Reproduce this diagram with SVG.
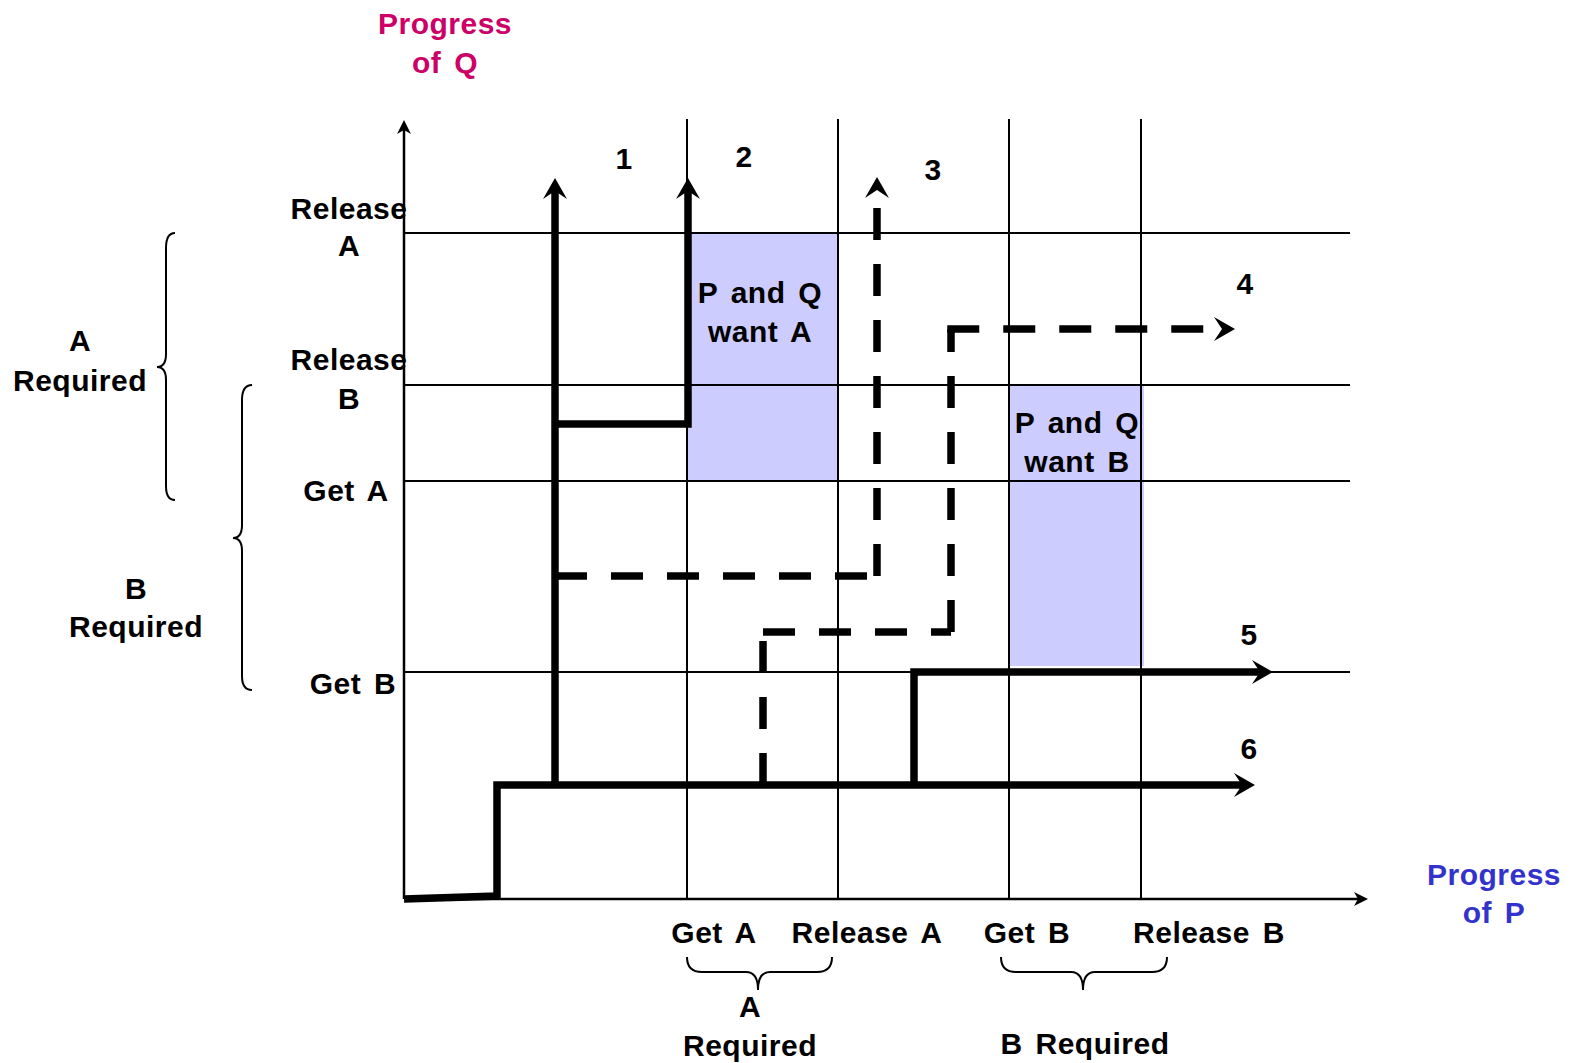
<svg xmlns="http://www.w3.org/2000/svg" width="1575" height="1063" viewBox="0 0 1575 1063">
<defs>
<style>
.t{font-family:"Liberation Sans",Arial,sans-serif;font-weight:bold;font-size:30px;fill:#000;text-anchor:middle;letter-spacing:0.5px;word-spacing:4px}
.q{fill:#CC0066}
.p{fill:#3333CC}
.grid{stroke:#000;stroke-width:2;fill:none}
.axis{stroke:#000;stroke-width:2.5;fill:none}
.thick{stroke:#000;stroke-width:7.5;fill:none}
.dash{stroke-dasharray:32 24}
.brace{stroke:#000;stroke-width:2;fill:none}
.shade{fill:#CCCCFF;stroke:none}
</style>
<marker id="big" markerUnits="userSpaceOnUse" viewBox="-10 -13 25 26" markerWidth="25" markerHeight="26" refX="0" refY="0" orient="auto"><path d="M13,0 L-8,-12 L0,0 L-8,12 Z" fill="#000"/></marker>
<marker id="small" markerUnits="userSpaceOnUse" viewBox="-6 -8 18 16" markerWidth="18" markerHeight="16" refX="0" refY="0" orient="auto"><path d="M10,0 L-4,-7 L0,0 L-4,7 Z" fill="#000"/></marker>
</defs>
<rect width="1575" height="1063" fill="#fff"/>

<g id="zone-a"><rect class="shade" x="687" y="233" width="151" height="248"/><text class="t" x="760" y="303">P and Q</text><text class="t" x="760" y="342">want A</text></g>
<g id="zone-b"><rect class="shade" x="1009" y="385" width="135" height="281"/><text class="t" x="1077" y="433">P and Q</text><text class="t" x="1077" y="472">want B</text></g>

<g id="grid">
<path class="grid" d="M404,233H1350M404,385H1350M404,481H1350M404,672H1350"/>
<path class="grid" d="M687,119V899M838,119V899M1009,119V899M1141,119V899"/>
</g>

<g id="axes">
<path class="axis" d="M404,899V130" marker-end="url(#small)"/>
<path class="axis" d="M404,899H1358" marker-end="url(#small)"/>
</g>

<g id="connectors">
<path id="path1" class="thick" d="M555,785V191" marker-end="url(#big)"/>
<path id="path2" class="thick" d="M555,424H688V191" marker-end="url(#big)"/>
<g id="path3">
<path class="thick dash" d="M555,576H877"/>
<path class="thick dash" d="M877,576V190" marker-end="url(#big)"/>
</g>
<g id="path4">
<path class="thick dash" d="M763,785V632"/>
<path class="thick dash" d="M763,632H951"/>
<path class="thick dash" d="M951,632V329"/>
<path class="thick dash" d="M947.25,329H1222" marker-end="url(#big)"/>
</g>
<path id="path5" class="thick" d="M914,785V672H1260" marker-end="url(#big)"/>
<path id="path6" class="thick" d="M404,899L497,896V785H1242" marker-end="url(#big)"/>
</g>

<g id="braces">
<path class="brace" d="M175,233Q166,233 166,248V354Q166,367 157,367Q166,367 166,380V486Q166,500 175,500"/>
<path class="brace" d="M252,385Q242,385 242,400V525Q242,538 233,538Q242,538 242,551V676Q242,690 252,690"/>
<path class="brace" d="M687,957Q687,972 702,972H746Q758,972 758,990Q758,972 770,972H817Q832,972 832,957"/>
<path class="brace" d="M1001,957Q1001,972 1016,972H1071Q1083,972 1083,990Q1083,972 1095,972H1152Q1167,972 1167,957"/>
</g>

<g id="label-progress-q"><text class="t q" x="445" y="34">Progress</text><text class="t q" x="445" y="73">of Q</text></g>
<g id="label-progress-p"><text class="t p" x="1494" y="885">Progress</text><text class="t p" x="1494" y="923">of P</text></g>

<g id="label-release-a-y"><text class="t" x="349" y="219">Release</text><text class="t" x="349" y="256">A</text></g>
<g id="label-release-b-y"><text class="t" x="349" y="370">Release</text><text class="t" x="349" y="409">B</text></g>
<g id="label-get-a-y"><text class="t" x="346" y="501">Get A</text></g>
<g id="label-get-b-y"><text class="t" x="353" y="694">Get B</text></g>
<g id="label-a-required-y"><text class="t" x="80" y="351">A</text><text class="t" x="80" y="391">Required</text></g>
<g id="label-b-required-y"><text class="t" x="136" y="599">B</text><text class="t" x="136" y="637">Required</text></g>

<g id="label-get-a-x"><text class="t" x="714" y="943">Get A</text></g>
<g id="label-release-a-x"><text class="t" x="867" y="943">Release A</text></g>
<g id="label-get-b-x"><text class="t" x="1027" y="943">Get B</text></g>
<g id="label-release-b-x"><text class="t" x="1209" y="943">Release B</text></g>
<g id="label-a-required-x"><text class="t" x="750" y="1017">A</text><text class="t" x="750" y="1056">Required</text></g>
<g id="label-b-required-x"><text class="t" x="1085" y="1054">B Required</text></g>

<g id="num-1"><text class="t" x="624" y="169">1</text></g>
<g id="num-2"><text class="t" x="744" y="167">2</text></g>
<g id="num-3"><text class="t" x="933" y="180">3</text></g>
<g id="num-4"><text class="t" x="1245" y="294">4</text></g>
<g id="num-5"><text class="t" x="1249" y="645">5</text></g>
<g id="num-6"><text class="t" x="1249" y="759">6</text></g>
</svg>
